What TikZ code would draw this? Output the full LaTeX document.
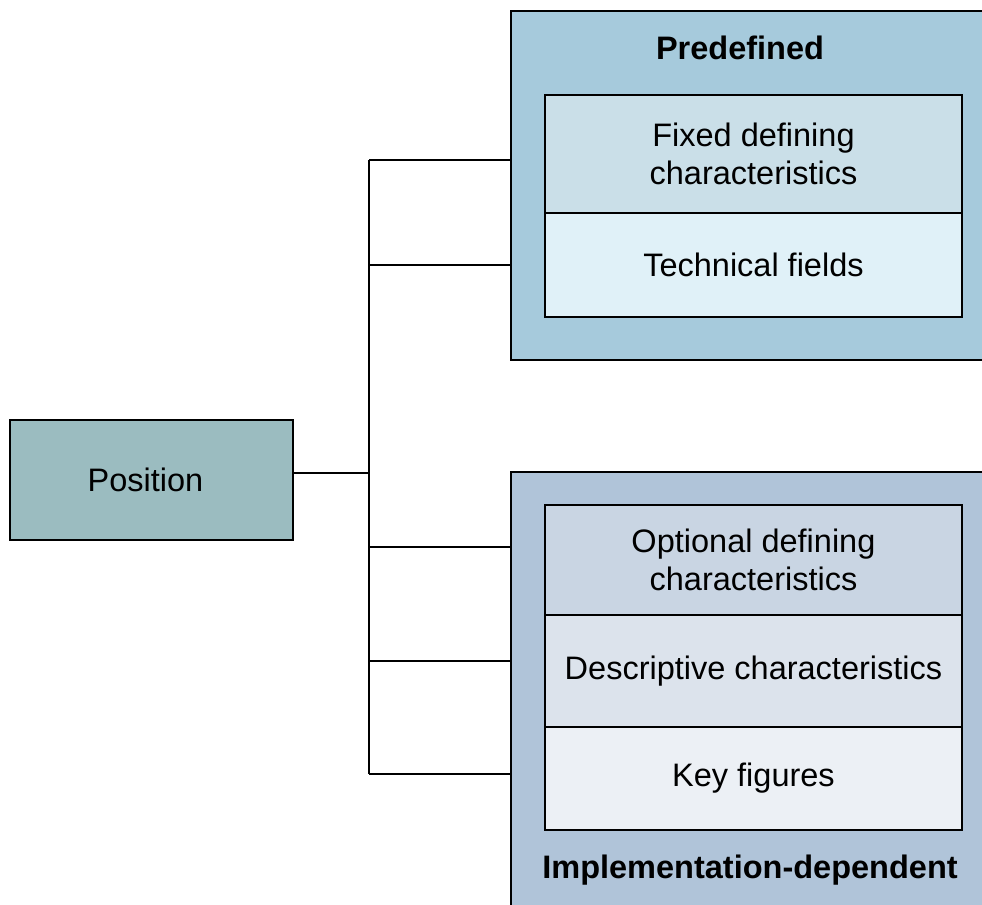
\documentclass[tikz,border=0pt]{standalone}
\usepackage{fontspec}
\setmainfont{Liberation Sans}
\usetikzlibrary{positioning}

\definecolor{poscol}{HTML}{9BBCC0}
\definecolor{predefcol}{HTML}{A6CADC}
\definecolor{fixedcol}{HTML}{CADFE8}
\definecolor{techcol}{HTML}{E0F1F8}
\definecolor{implcol}{HTML}{B0C4D9}
\definecolor{optcol}{HTML}{C9D5E3}
\definecolor{desccol}{HTML}{DCE3EC}
\definecolor{keycol}{HTML}{ECF0F5}

\begin{document}
\begin{tikzpicture}[
		x=0.02cm, y=-0.02cm,
		every node/.style={font=\fontsize{18.5}{21.6}\selectfont, align=center, inner sep=0pt},
		outbox/.style={draw, line width=1.4pt, minimum width=9.6cm, anchor=north west},
		inbox/.style={draw, line width=1.2pt, outer sep=0pt, minimum width=8.34cm},
		title/.style={font=\fontsize{18.5}{21.6}\selectfont\bfseries},
		conn/.style={line width=1.2pt}
	]
	\clip (0,0) rectangle (982,904);

	% Nodes
	\node[outbox, fill=predefcol, minimum height=6.98cm] (predef) at (510,10) {};
	\node[outbox, fill=implcol, minimum height=9cm] (impl) at (510,471) {};
	\node[title] (predeftitle) at (740,48) {Predefined};
	\node[title] (impltitle) at (750,870) {Implementation-dependent};

	\node[inbox, fill=fixedcol, minimum height=2.36cm, anchor=north west] (fixed) at (545,95) {Fixed defining\\characteristics};
	\node[inbox, fill=techcol, minimum height=2.08cm] (tech) [below=0cm of fixed] {Technical fields};

	\node[inbox, fill=optcol, minimum height=2.2cm, anchor=north west] (opt) at (545,505) {Optional defining\\characteristics};
	\node[inbox, fill=desccol, minimum height=2.24cm] (desc) [below=0cm of opt] {Descriptive characteristics};
	\node[inbox, fill=keycol, minimum height=2.06cm] (key) [below=0cm of desc] {Key figures};

	\node[draw, line width=1.4pt, fill=poscol, minimum width=5.66cm, minimum height=2.4cm] (pos) at (151.5,480) {Position\hspace*{0.24cm}};

	% Connections
	\coordinate (t1) at (369,160);
	\coordinate (t2) at (369,265);
	\coordinate (j) at (369,473);
	\coordinate (b1) at (369,547);
	\coordinate (b2) at (369,661);
	\coordinate (b3) at (369,774);

	\draw[conn] (j -| pos.east) -- (j);
	\draw[conn] (t1) -- (b3);

	\draw[conn] (t1) -- (t1 -| predef.west);
	\draw[conn] (t2) -- (t2 -| predef.west);

	\draw[conn] (b1) -- (b1 -| impl.west);
	\draw[conn] (b2) -- (b2 -| impl.west);
	\draw[conn] (b3) -- (b3 -| impl.west);

\end{tikzpicture}
\end{document}
